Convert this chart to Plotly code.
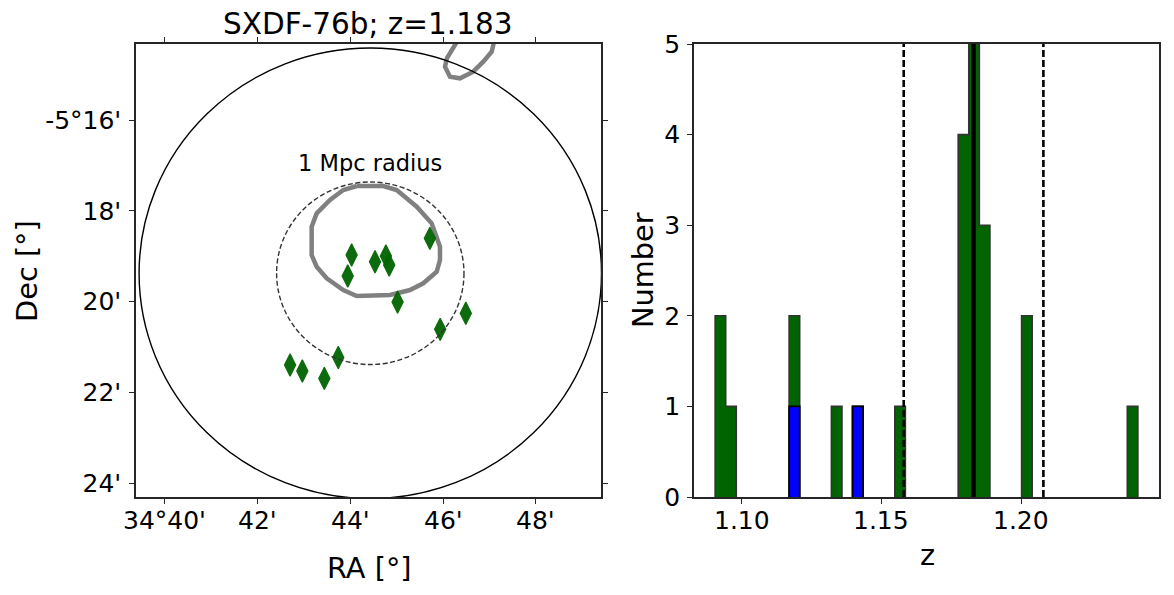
import numpy as np
import plotly.graph_objects as go

# ---------------- data ----------------
TITLE = "SXDF-76b; z=1.183"
z_cluster = 1.183
dz_window = 0.025

# member galaxies (RA, Dec in degrees)
member_ra = [34.7619, 34.7338, 34.7422, 34.7461, 34.7473, 34.7324, 34.7503,
             34.7748, 34.7656, 34.7290, 34.7117, 34.7161, 34.7240]
member_dec = [-5.3101, -5.3162, -5.3187, -5.3166, -5.3199, -5.3239, -5.3335,
              -5.3376, -5.3435, -5.3538, -5.3566, -5.3588, -5.3615]

# density contours (RA, Dec in degrees)
contour1_ra = [34.73562, 34.74517, 34.74998, 34.75717, 34.76255, 34.76553, 34.76553,
               34.76435, 34.75953, 34.75477, 34.74758, 34.73562, 34.73080, 34.72485,
               34.72125, 34.71945, 34.71945, 34.72125, 34.72603, 34.73080, 34.73562]
contour1_dec = [-5.29088, -5.29088, -5.29235, -5.29848, -5.30458, -5.31317, -5.31805,
                -5.32235, -5.32660, -5.32907, -5.33090, -5.33127, -5.32907, -5.32477,
                -5.32052, -5.31622, -5.30583, -5.30092, -5.29603, -5.29235, -5.29088]
contour2_ra = [34.77200, 34.76973, 34.76805, 34.76733, 34.76912, 34.77272,
               34.77748, 34.78108, 34.78410, 34.78468, 34.78493]
contour2_dec = [-5.23730, -5.24097, -5.24392, -5.24710, -5.25077, -5.25137,
                -5.24893, -5.24527, -5.24160, -5.23913, -5.23657]

center_ra = 34.7405
center_dec = -5.32292
r_outer_arcmin = 4.96
r_1mpc_arcmin = 2.01
label_dec = -5.28245

ra_tickvals = [34 + m / 60 for m in (40, 42, 44, 46, 48)]
ra_ticktext = ["34°40'", "42'", "44'", "46'", "48'"]
dec_tickvals = [-5 - m / 60 for m in (16, 18, 20, 22, 24)]
dec_ticktext = ["-5°16'", "18'", "20'", "22'", "24'"]

# redshift histogram
z_all = [1.0924, 1.0924, 1.0962, 1.1189, 1.1189, 1.1340, 1.1416, 1.1567,
         1.1794, 1.1794, 1.1794, 1.1794,
         1.1832, 1.1832, 1.1832, 1.1832, 1.1832,
         1.1870, 1.1870, 1.1870, 1.2021, 1.2021, 1.2399]
z_blue = [1.1189, 1.1416]
hist_start = 1.0905
hist_bin = 0.003783
hist_nbins = 40

z_tickvals = [1.10, 1.15, 1.20]
z_ticktext = ["1.10", "1.15", "1.20"]

# ---------------- figure ----------------
W, H = 1174, 595
FONT = "DejaVu Sans"
AX = "#262626"

fig = go.Figure()

# left panel
fig.add_trace(go.Scatter(x=contour1_ra, y=contour1_dec, mode="lines",
                         line=dict(color="#808080", width=4.5), xaxis="x", yaxis="y",
                         hoverinfo="skip"))
fig.add_trace(go.Scatter(x=contour2_ra, y=contour2_dec, mode="lines",
                         line=dict(color="#808080", width=4.5), xaxis="x", yaxis="y",
                         hoverinfo="skip"))
fig.add_trace(go.Scatter(x=member_ra, y=member_dec, mode="markers",
                         marker=dict(symbol="diamond-tall", size=16, color="#006400",
                                     opacity=0.95, line=dict(width=1.2, color="#006400")),
                         xaxis="x", yaxis="y"))

cosd = np.cos(np.deg2rad(center_dec))
for r, dash, col in [(r_outer_arcmin, "solid", "black"), (r_1mpc_arcmin, "5px,2.5px", "#333333")]:
    rx = r / 60 / cosd
    ry = r / 60
    fig.add_shape(type="circle", xref="x", yref="y",
                  x0=center_ra - rx, x1=center_ra + rx,
                  y0=center_dec - ry, y1=center_dec + ry,
                  line=dict(color=col, width=1.4, dash=dash), layer="above")

# right panel: stepfilled histograms
edges = hist_start + hist_bin * np.arange(hist_nbins + 1)


def step_poly(values):
    counts, _ = np.histogram(values, bins=edges)
    xs, ys = [], []
    k = 0
    while k < hist_nbins:
        if counts[k] == 0:
            k += 1
            continue
        j = k
        while j < hist_nbins and counts[j] > 0:
            j += 1
        xs += [edges[k]] + list(edges[k:j]) + [edges[j], edges[j], None]
        ys += [0] + list(counts[k:j]) + [counts[j - 1], 0, None]
        k = j
    return xs, ys


gx, gy = step_poly(z_all)
fig.add_trace(go.Scatter(x=gx, y=gy, mode="lines", line_shape="hv", fill="toself",
                         fillcolor="#006400", line=dict(color="#333333", width=1.6),
                         xaxis="x2", yaxis="y2", hoverinfo="skip"))
bx, by = step_poly(z_blue)
fig.add_trace(go.Scatter(x=bx, y=by, mode="lines", line_shape="hv", fill="toself",
                         fillcolor="#0000ff", line=dict(color="black", width=1.8),
                         xaxis="x2", yaxis="y2", hoverinfo="skip"))

fig.add_shape(type="line", xref="x2", yref="y2 domain", x0=z_cluster, x1=z_cluster,
              y0=0, y1=1, line=dict(color="black", width=4.5), layer="above")
for zz in (z_cluster - dz_window, z_cluster + dz_window):
    fig.add_shape(type="line", xref="x2", yref="y2 domain", x0=zz, x1=zz, y0=0, y1=1,
                  line=dict(color="black", width=2.6, dash="7px,3px"), layer="above")

tickfont = dict(family=FONT, size=25, color="black")
common = dict(showgrid=False, zeroline=False, showline=True, linecolor=AX, linewidth=1.5,
              ticks="outside", ticklen=5, tickwidth=1.3, tickcolor=AX, tickfont=tickfont,
              automargin=True)

ydom = [(H - 497) / H, (H - 44) / H]
fig.update_layout(
    width=W, height=H, margin=dict(l=0, r=0, t=0, b=0, pad=0, autoexpand=False),
    paper_bgcolor="white", plot_bgcolor="white", showlegend=False,
    xaxis=dict(domain=[136 / W, 601 / W], range=[34.65637, 34.82335],
               tickmode="array", tickvals=ra_tickvals, ticktext=ra_ticktext,
               showticklabels=False, mirror="allticks", anchor="y", **common),
    yaxis=dict(domain=ydom, range=[-5.40503, -5.23877],
               tickmode="array", tickvals=dec_tickvals, ticktext=dec_ticktext,
               ticklabelstandoff=3, mirror="allticks", anchor="x", **common),
    xaxis2=dict(domain=[694 / W, 1159 / W], range=[1.08293, 1.24939],
                tickmode="array", tickvals=z_tickvals, ticktext=z_ticktext,
                showticklabels=False, mirror=True, anchor="y2", **common),
    yaxis2=dict(domain=ydom, range=[0, 5], tickmode="linear", tick0=0, dtick=1,
                ticklabelstandoff=2, mirror=True, anchor="x2", **common),
)

# x tick labels, placed at the axes' tick values
for xref, vals, texts in (("x", ra_tickvals, ra_ticktext), ("x2", z_tickvals, z_ticktext)):
    for v, t in zip(vals, texts):
        fig.add_annotation(text=t, x=v, y=1 - 520.5 / H, xref=xref, yref="paper",
                           showarrow=False, xanchor="center", yanchor="middle",
                           font=tickfont)


def ann(text, px, py, size, angle=0):
    fig.add_annotation(text=text, x=px / W, y=1 - py / H, xref="paper", yref="paper",
                       showarrow=False, xanchor="center", yanchor="middle",
                       textangle=angle, font=dict(family=FONT, size=size, color="black"))


ann(TITLE, 368, 24.5, 29.5)
ann("RA [°]", 369, 568, 28.8)
ann("Dec [°]", 27, 271, 28.8, angle=-90)
ann("z", 927, 555, 28.8)
ann("Number", 643, 270, 28.8, angle=-90)
fig.add_annotation(text="1 Mpc radius", x=center_ra, y=label_dec, xref="x", yref="y",
                   showarrow=False, xanchor="center", yanchor="middle",
                   font=dict(family=FONT, size=22.5, color="black"))

fig.write_html("out.html", config={"displayModeBar": False},
               post_script="document.body.style.margin='0';")
